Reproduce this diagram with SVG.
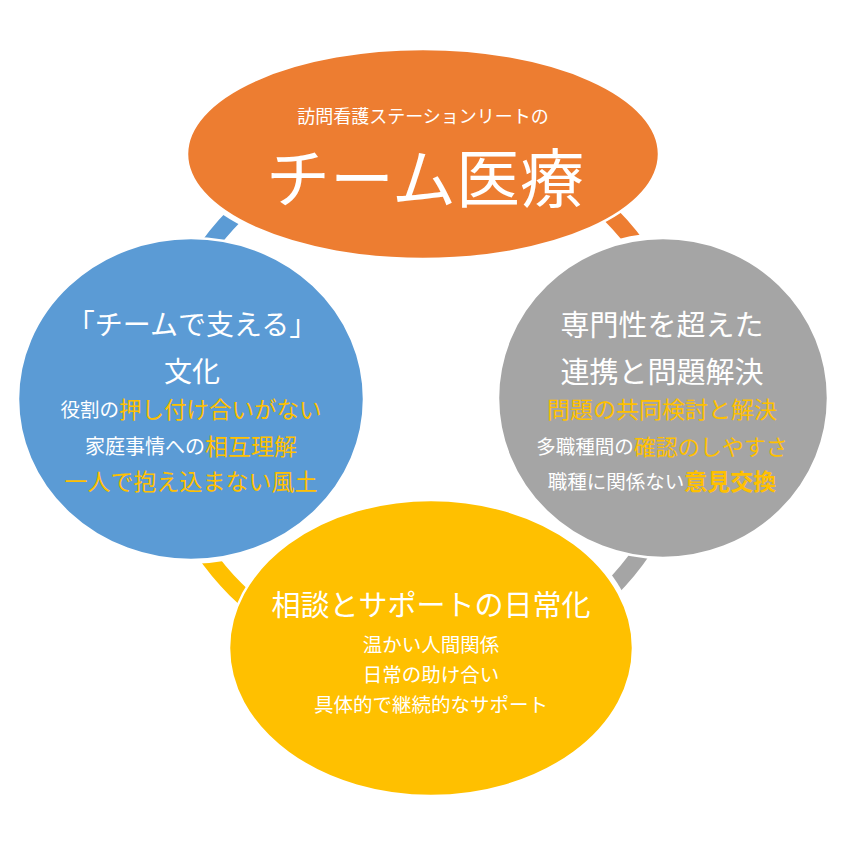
<svg xmlns="http://www.w3.org/2000/svg" width="846" height="846" viewBox="0 0 846 846">
<style>
text{font-family:"Noto Sans CJK JP","Noto Sans",sans-serif;fill:#fff;text-anchor:middle;dominant-baseline:central}
.y{fill:#FFC000}
.b{font-weight:bold}
.arc{fill:none;stroke-width:17}
.node{stroke:#fff;stroke-width:2.5}
</style>
<defs>
<mask id="mBlue" maskUnits="userSpaceOnUse" x="0" y="0" width="846" height="846"><rect width="846" height="846" fill="#fff"/><ellipse cx="423" cy="154" rx="241" ry="109" fill="#000"/></mask>
<mask id="mOrange" maskUnits="userSpaceOnUse" x="0" y="0" width="846" height="846"><rect width="846" height="846" fill="#fff"/><ellipse cx="663" cy="398" rx="169" ry="165" fill="#000"/></mask>
<mask id="mGray" maskUnits="userSpaceOnUse" x="0" y="0" width="846" height="846"><rect width="846" height="846" fill="#fff"/><ellipse cx="431" cy="648" rx="206" ry="152" fill="#000"/></mask>
<mask id="mYellow" maskUnits="userSpaceOnUse" x="0" y="0" width="846" height="846"><rect width="846" height="846" fill="#fff"/><ellipse cx="191" cy="399" rx="177" ry="165" fill="#000"/></mask>
</defs>
<rect width="846" height="846" fill="#fff"/>
<g id="connectors">
<path class="arc" stroke="#5B9BD5" mask="url(#mBlue)" d="M158,402 A265,265 0 0 1 423,137"/>
<path class="arc" stroke="#ED7D31" mask="url(#mOrange)" d="M423,137 A265,265 0 0 1 688,402"/>
<path class="arc" stroke="#A5A5A5" mask="url(#mGray)" d="M688,402 A265,265 0 0 1 423,667"/>
<path class="arc" stroke="#FFC000" mask="url(#mYellow)" d="M423,667 A265,265 0 0 1 158,402"/>
</g>
<g id="node-top">
<ellipse class="node" cx="423" cy="154" rx="236" ry="105" fill="#ED7D31"/>
<text x="423" y="115" font-size="18">訪問看護ステーションリートの</text>
<text x="425" y="174" font-size="64">チーム医療</text>
</g>
<g id="node-left">
<ellipse class="node" cx="191" cy="399" rx="173" ry="161" fill="#5B9BD5"/>
<text x="192" y="323" font-size="28">「チームで支える」</text>
<text x="192" y="370" font-size="28">文化</text>
<text x="191" y="408"><tspan font-size="19.5">役割の</tspan><tspan class="y" font-size="22.5">押し付け合いがない</tspan></text>
<text x="191" y="445"><tspan font-size="20">家庭事情への</tspan><tspan class="y" font-size="23">相互理解</tspan></text>
<text x="191" y="480" class="y" font-size="23">一人で抱え込まない風土</text>
</g>
<g id="node-right">
<ellipse class="node" cx="663" cy="398" rx="165" ry="160" fill="#A5A5A5"/>
<text x="662" y="323" font-size="29">専門性を超えた</text>
<text x="662" y="370" font-size="29">連携と問題解決</text>
<text x="662" y="408" class="y" font-size="23">問題の共同検討と解決</text>
<text x="662" y="445"><tspan font-size="19.5">多職種間の</tspan><tspan class="y" font-size="22">確認のしやすさ</tspan></text>
<text x="662" y="480"><tspan font-size="19.5">職種に関係ない</tspan><tspan class="y b" font-size="23">意見交換</tspan></text>
</g>
<g id="node-bottom">
<ellipse class="node" cx="431" cy="648" rx="202" ry="148" fill="#FFC000"/>
<text x="431" y="603" font-size="29">相談とサポートの日常化</text>
<text x="431" y="643" font-size="19.5">温かい人間関係</text>
<text x="431" y="673" font-size="19.5">日常の助け合い</text>
<text x="431" y="703" font-size="19.5">具体的で継続的なサポート</text>
</g>
</svg>
